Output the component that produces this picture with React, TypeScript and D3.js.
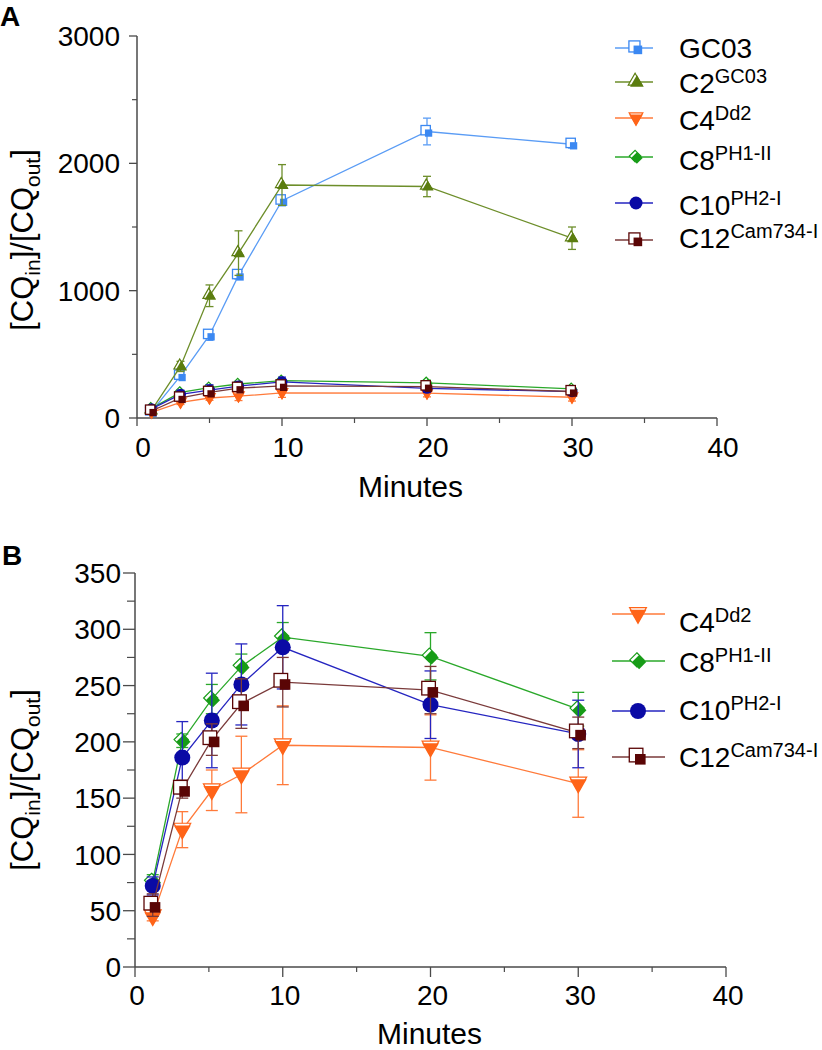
import * as d3 from "d3";

// time points (minutes)
const timesA = [1, 3, 5, 7, 10, 20, 30];
const timesB = [1.2, 3.2, 5.2, 7.2, 10, 20, 30];

// [CQin]/[CQout] means and error (SEM)
const gc03Mean = [50, 330, 650, 1120, 1706, 2250, 2150];
const gc03Err = [10, 25, 40, 30, 40, 105, 30];
const c2Mean = [60, 405, 960, 1295, 1830, 1818, 1412];
const c2Err = [10, 40, 85, 175, 160, 80, 88];
const c4Mean = [45, 122, 157, 171, 197, 195, 163];
const c4Err = [4, 16, 18, 34, 35, 29, 30];
const c8Mean = [76, 201, 238, 267, 293, 276, 229];
const c8Err = [6, 6, 13, 11, 13, 21, 15];
const c10Mean = [72, 186, 219, 251, 284, 233, 207];
const c10Err = [8, 32, 42, 36, 37, 30, 30];
const c12Mean = [55, 158, 202, 234, 253, 246, 208];
const c12Err = [10, 8, 14, 22, 22, 21, 14];

const ticksA = [0, 1000, 2000, 3000];
const ticksB = [0, 50, 100, 150, 200, 250, 300, 350];
const ticksX = [0, 10, 20, 30, 40];

const FONT = "'Liberation Sans', Arial, Helvetica, sans-serif";

type Shape = "halfSquare" | "triUp" | "triDown" | "diamond" | "circle";

interface Series {
  name: string;
  sup: string;
  mean: number[];
  err: number[];
  color: string;
  line: string;
  shape: Shape;
}

const gc03: Series = { name: "GC03", sup: "", mean: gc03Mean, err: gc03Err, color: "#3b88f2", line: "#5a9cf5", shape: "halfSquare" };
const c2: Series = { name: "C2", sup: "GC03", mean: c2Mean, err: c2Err, color: "#5b7d0f", line: "#6d8e2a", shape: "triUp" };
const c4: Series = { name: "C4", sup: "Dd2", mean: c4Mean, err: c4Err, color: "#ff6418", line: "#ff7a3a", shape: "triDown" };
const c8: Series = { name: "C8", sup: "PH1-II", mean: c8Mean, err: c8Err, color: "#179c17", line: "#2aa82a", shape: "diamond" };
const c10: Series = { name: "C10", sup: "PH2-I", mean: c10Mean, err: c10Err, color: "#0a0aa5", line: "#2525c0", shape: "circle" };
const c12: Series = { name: "C12", sup: "Cam734-I", mean: c12Mean, err: c12Err, color: "#5a0505", line: "#7a3a3a", shape: "halfSquare" };

function Marker({ shape, color, size, x, y }: { shape: Shape; color: string; size: number; x: number; y: number }) {
  if (shape === "circle") {
    return <circle cx={x} cy={y} r={size / 2} fill={color} />;
  }
  if (shape === "halfSquare") {
    const o = size * 0.12;
    const s = size * 0.85;
    const f = s * 0.78;
    return (
      <g>
        <rect x={x - o - s / 2} y={y - o - s / 2} width={s} height={s} fill="#fff" stroke={color} strokeWidth={1.3} />
        <rect x={x + o * 1.2 - f / 2} y={y + o * 1.2 - f / 2} width={f} height={f} fill={color} />
      </g>
    );
  }
  const o = size * 0.07;
  const type = shape === "diamond" ? d3.symbolDiamond2 : d3.symbolTriangle;
  const area = shape === "diamond" ? size * size * 0.5 : size * size * 0.48;
  const p = d3.symbol().type(type).size(area)() as string;
  const rot = shape === "triDown" ? 180 : 0;
  const dx1 = shape === "triDown" ? 0 : -o;
  const dy1 = shape === "triDown" ? -o * 1.4 : -o;
  const dx2 = shape === "triDown" ? 0 : o;
  const dy2 = shape === "triDown" ? o * 0.6 : o;
  return (
    <g>
      <path d={p} transform={`translate(${x + dx1},${y + dy1}) rotate(${rot})`} fill="#fff" stroke={color} strokeWidth={1.2} />
      <path d={p} transform={`translate(${x + dx2},${y + dy2}) rotate(${rot})`} fill={color} />
    </g>
  );
}

interface PanelProps {
  letter: string;
  letterY: number;
  series: Series[];
  times: number[];
  xRange: [number, number];
  yRange: [number, number];
  yMax: number;
  yTicks: number[];
  yMinor: number;
  majY: number;
  minY: number;
  tickLabelX: number;
  xLabelBase: number;
  xLabelDx: number;
  xMajLen: number;
  titleX: number;
  titleY: number;
  yTitleY: number;
  markerSize: number;
  cap: number;
  legendLine: [number, number];
  legendMarkerX: number;
  legendTextX: number;
  legendMarkY: number[];
  legendBaseY: number[];
  legendMarkerSize: number;
}

function Panel(p: PanelProps) {
  const x = d3.scaleLinear().domain([0, 40]).range(p.xRange);
  const y = d3.scaleLinear().domain([0, p.yMax]).range(p.yRange);
  const minorY = d3.range(p.yMinor, p.yMax, p.yMinor * 2);
  const minorX = [5, 15, 25, 35];
  const line = d3.line<number>().x((_, i) => x(p.times[i])).y((d) => y(d));
  const axisColor = "#4a4a4a";
  const [x0, x1] = p.xRange;
  const [y0, y1] = p.yRange;

  return (
    <g fontFamily={FONT}>
      <text x={p.letter === "A" ? 0 : 2} y={p.letterY} fontSize={28} fontWeight="bold">
        {p.letter}
      </text>

      {/* axes */}
      <line x1={x0} x2={x0} y1={y1} y2={y0} stroke={axisColor} strokeWidth={1.5} />
      <line x1={x0} x2={x1} y1={y0} y2={y0} stroke={axisColor} strokeWidth={1.5} />
      {p.yTicks.map((t) => (
        <g key={"yt" + t}>
          <line x1={x0 - p.majY} x2={x0} y1={y(t)} y2={y(t)} stroke={axisColor} strokeWidth={1.3} />
          <text x={p.tickLabelX} y={y(t)} dy="0.36em" fontSize={28} textAnchor="end">
            {t}
          </text>
        </g>
      ))}
      {minorY.map((t) => (
        <line key={"ym" + t} x1={x0 - p.minY} x2={x0} y1={y(t)} y2={y(t)} stroke={axisColor} strokeWidth={1.2} />
      ))}
      {ticksX.map((t) => (
        <g key={"xt" + t}>
          <line x1={x(t)} x2={x(t)} y1={y0} y2={y0 + p.xMajLen} stroke={axisColor} strokeWidth={1.3} />
          <text x={x(t) + p.xLabelDx} y={p.xLabelBase} fontSize={28} textAnchor="middle">
            {t}
          </text>
        </g>
      ))}
      {minorX.map((t) => (
        <line key={"xm" + t} x1={x(t)} x2={x(t)} y1={y0} y2={y0 + 5} stroke={axisColor} strokeWidth={1.2} />
      ))}

      <text x={p.titleX} y={p.titleY} fontSize={30}>
        Minutes
      </text>
      <text transform={`translate(33,${p.yTitleY}) rotate(-90)`} fontSize={31} textAnchor="middle">
        [CQ<tspan fontSize={21} dy={7}>in</tspan>
        <tspan dy={-7}>]/[CQ</tspan>
        <tspan fontSize={21} dy={7}>out</tspan>
        <tspan dy={-7}>]</tspan>
      </text>

      {/* series */}
      {p.series.map((s) => (
        <g key={s.name}>
          <path d={line(s.mean) as string} fill="none" stroke={s.line} strokeWidth={1.3} />
          {s.mean.map((m, i) => {
            const cx = x(p.times[i]);
            const top = y(m + s.err[i]);
            const bot = y(m - s.err[i]);
            return (
              <g key={i} stroke={s.line} strokeWidth={1.3}>
                <line x1={cx} x2={cx} y1={top} y2={bot} />
                <line x1={cx - p.cap} x2={cx + p.cap} y1={top} y2={top} />
                <line x1={cx - p.cap} x2={cx + p.cap} y1={bot} y2={bot} />
              </g>
            );
          })}
          {s.mean.map((m, i) => (
            <Marker key={"m" + i} shape={s.shape} color={s.color} size={p.markerSize} x={x(p.times[i])} y={y(m)} />
          ))}
        </g>
      ))}

      {/* legend */}
      {p.series.map((s, i) => (
        <g key={"lg" + s.name}>
          <line x1={p.legendLine[0]} x2={p.legendLine[1]} y1={p.legendMarkY[i]} y2={p.legendMarkY[i]} stroke={s.line} strokeWidth={1.5} />
          <Marker shape={s.shape} color={s.color} size={p.legendMarkerSize} x={p.legendMarkerX} y={p.legendMarkY[i]} />
          <text x={p.legendTextX} y={p.legendBaseY[i]} fontSize={28}>
            {s.name}
            {s.sup && (
              <tspan fontSize={20} dy={-10}>
                {s.sup}
              </tspan>
            )}
          </text>
        </g>
      ))}
    </g>
  );
}

export default function App() {
  return (
    <svg width={822} height={1050} style={{ position: "absolute", left: 0, top: 0, background: "#fff" }}>
      <Panel
        letter="A"
        letterY={26}
        series={[gc03, c2, c4, c8, c10, c12]}
        times={timesA}
        xRange={[137, 717]}
        yRange={[418, 36]}
        yMax={3000}
        yTicks={ticksA}
        yMinor={500}
        majY={8}
        minY={5}
        tickLabelX={120}
        xLabelBase={457}
        xLabelDx={6}
        xMajLen={8}
        titleX={358}
        titleY={497}
        yTitleY={240}
        markerSize={11}
        cap={4}
        legendLine={[615, 653]}
        legendMarkerX={636}
        legendTextX={679}
        legendMarkY={[48, 82, 118, 157, 203, 240]}
        legendBaseY={[58, 93, 130, 170, 215, 248]}
        legendMarkerSize={13}
      />
      <Panel
        letter="B"
        letterY={565}
        series={[c4, c8, c10, c12]}
        times={timesB}
        xRange={[135, 726]}
        yRange={[967, 573]}
        yMax={350}
        yTicks={ticksB}
        yMinor={25}
        majY={12}
        minY={8}
        tickLabelX={121}
        xLabelBase={1005}
        xLabelDx={2}
        xMajLen={10}
        titleX={377}
        titleY={1044}
        yTitleY={780}
        markerSize={16}
        cap={6}
        legendLine={[612, 665]}
        legendMarkerX={638}
        legendTextX={679}
        legendMarkY={[614, 661, 711, 757]}
        legendBaseY={[632, 672, 720, 767]}
        legendMarkerSize={16}
      />
    </svg>
  );
}
